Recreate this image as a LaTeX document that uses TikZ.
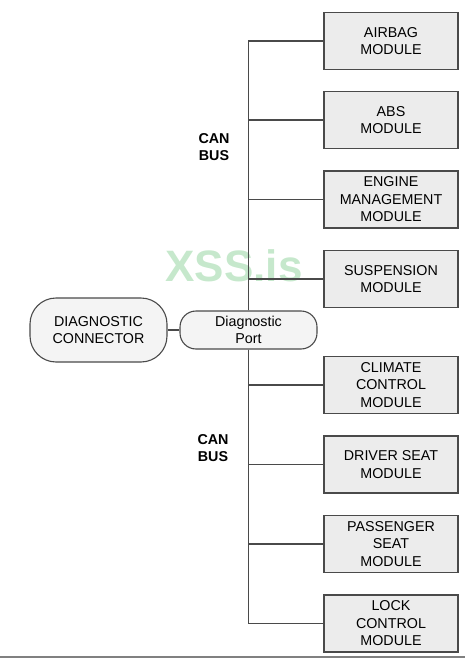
\documentclass[tikz,border=0pt]{standalone}
\usepackage{fontspec}
\setmainfont{Liberation Sans}
\usepackage{tikz}
\usetikzlibrary{positioning, shapes.geometric}

\definecolor{boxfill}{HTML}{ECECEC}
\definecolor{boxline}{HTML}{4A4A4A}
\definecolor{markgreen}{HTML}{C6E8CC}

\tikzset{
  modbox/.style={draw=boxline, line width=1.3pt, fill=boxfill, align=center,
    minimum width=134pt, minimum height=57pt, inner sep=1pt},
  roundbox/.style={draw=boxline, line width=1.1pt, fill=boxfill!60, align=center,
    minimum width=137pt, inner sep=1pt},
  busline/.style={draw=boxline, line width=1.1pt}
}

\begin{document}
\begin{tikzpicture}[x=1pt, y=-1pt, font=\fontsize{14.3}{17.5}\selectfont]
		\useasboundingbox (0,0) rectangle (465,658);

		% watermark
		\node[text=markgreen, font=\fontsize{44}{44}\selectfont\bfseries] (mark) at (234,266) {XSS.is};

		% Modules on the bus
		\node[modbox] (airbag) at (391,41) {AIRBAG\\MODULE};
		\node[modbox] (abs) at (391,120) {ABS\\MODULE};
		\node[modbox] (engine) at (391,199.5) {ENGINE\\MANAGEMENT\\MODULE};
		\node[modbox] (susp) at (391,279) {SUSPENSION\\MODULE};
		\node[modbox] (climate) at (391,385) {CLIMATE\\CONTROL\\MODULE};
		\node[modbox] (driver) at (391,464.5) {DRIVER SEAT\\MODULE};
		\node[modbox] (passenger) at (391,544) {PASSENGER\\SEAT\\MODULE};
		\node[modbox] (lock) at (391,623.5) {LOCK\\CONTROL\\MODULE};

		% Connector and port
		\node[roundbox, minimum height=64pt, rounded corners=26pt] (connector) at (98.5,330) {DIAGNOSTIC\\CONNECTOR};
		\node[roundbox, minimum height=38pt, rounded corners=16pt] (port) at (248.5,330) {Diagnostic\\Port};

		\draw[busline] (connector.east) -- (port.west);

		% CAN bus, upper half
		\draw[busline] (port.north) |- (airbag.west);
		\draw[busline] (port.north) |- (abs.west);
		\draw[busline] (port.north) |- (engine.west);
		\draw[busline] (port.north) |- (susp.west);

		% CAN bus, lower half
		\draw[busline] (port.south) |- (climate.west);
		\draw[busline] (port.south) |- (driver.west);
		\draw[busline] (port.south) |- (passenger.west);
		\draw[busline] (port.south) |- (lock.west);

		\node[font=\fontsize{14.3}{17}\selectfont\bfseries, align=center] (busup) at (214,147) {CAN\\BUS};
		\node[font=\fontsize{14.3}{17}\selectfont\bfseries, align=center] (buslow) at (213,448) {CAN\\BUS};

		% rule at the foot of the page
		\draw[gray, line width=1.6pt] (0,657) -- (465,657);
	\end{tikzpicture}
\end{document}
